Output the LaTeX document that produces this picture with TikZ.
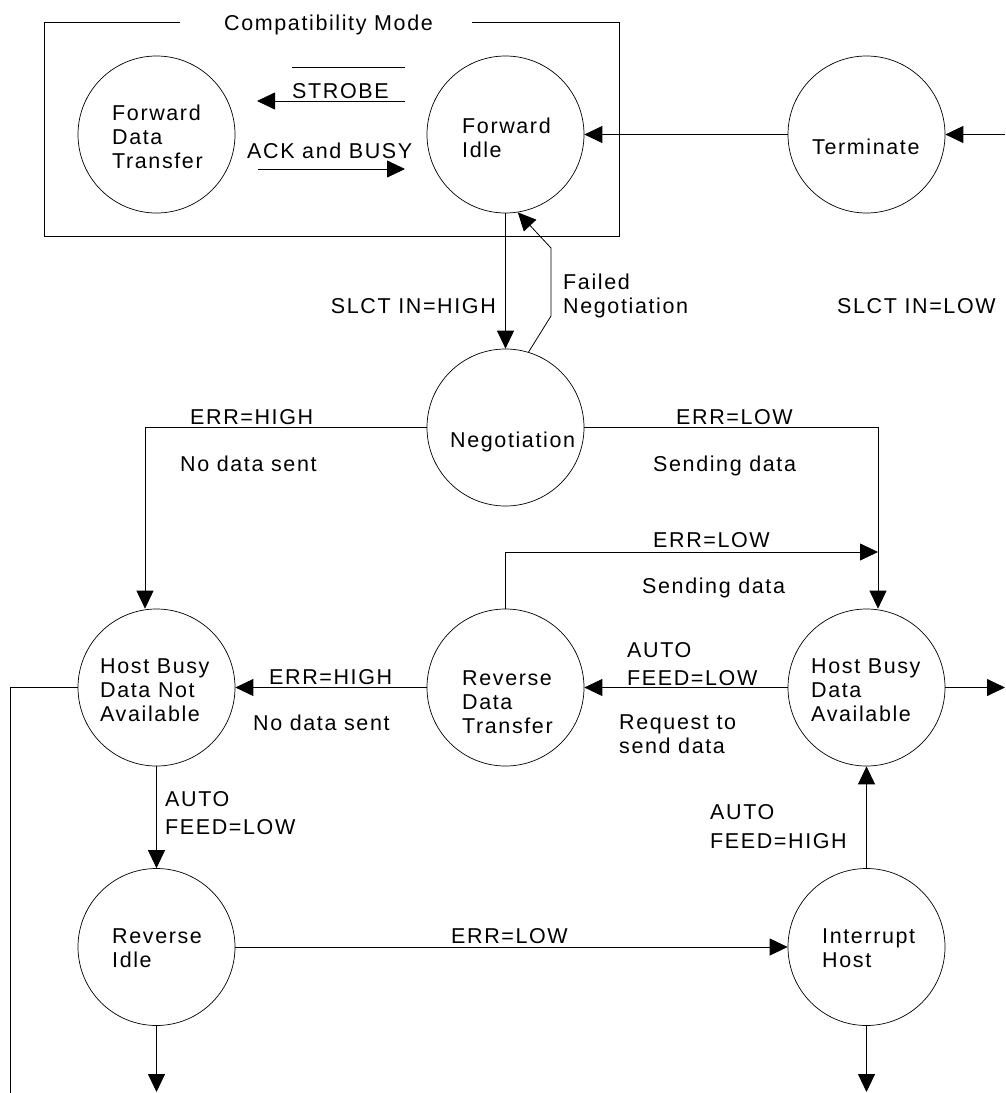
\documentclass[tikz,border=0pt]{standalone}
\usepackage{fontspec}
\setmainfont{Liberation Sans}[LetterSpace=7.5]
\usetikzlibrary{arrows.meta}
\tikzset{
  state/.style={draw, circle, minimum size=157pt, inner sep=0pt, line width=0.7pt},
  lbl/.style={anchor=base west, inner sep=0pt, font=\fontsize{21.5}{24}\selectfont},
  lble/.style={anchor=base east, inner sep=0pt, font=\fontsize{21.5}{24}\selectfont},
  conn/.style={line width=0.8pt},
  arr/.style={conn, -{Triangle[length=18pt,width=17pt]}},
}
\newcommand{\ml}[1]{\begin{tabular}[t]{@{}l@{}}#1\end{tabular}}
\begin{document}
\begin{tikzpicture}[x=1pt,y=-1pt]
\useasboundingbox (0,0) rectangle (1005,1093);
% compatibility box
\draw[conn] (180,22) -- (44,22) -- (44,236) -- (619,236) -- (619,22) -- (472,22);
\node[lbl] (cm) at (224,30) {Compatibility Mode};
% states
\node[state] (fdt) at (156.5,134.5) {};
\node[state] (fi) at (505.5,134.5) {};
\node[state] (term) at (866.5,134.5) {};
\node[state] (neg) at (505.5,427.5) {};
\node[state] (hbdna) at (156.5,687.5) {};
\node[state] (rdt) at (505.5,687.5) {};
\node[state] (hbda) at (866.5,687.5) {};
\node[state] (ri) at (156.5,947) {};
\node[state] (ih) at (866.5,947) {};
% state texts
\node[lbl] (fdt-t) at (112,120) {\ml{Forward\\Data\\Transfer}};
\node[lbl] (fi-t) at (462,133) {\ml{Forward\\Idle}};
\node[lbl] (term-t) at (812,154) {Terminate};
\node[lbl] (neg-t) at (450,447) {Negotiation};
\node[lbl] (hbdna-t) at (100,673) {\ml{Host Busy\\Data Not\\Available}};
\node[lbl] (rdt-t) at (462,685) {\ml{Reverse\\Data\\Transfer}};
\node[lbl] (hbda-t) at (811,673) {\ml{Host Busy\\Data\\Available}};
\node[lbl] (ri-t) at (112,943) {\ml{Reverse\\Idle}};
\node[lbl] (ih-t) at (822,943) {\ml{Interrupt\\Host}};
% coordinates
\coordinate (s1) at (405,101);
\coordinate (s2) at (257,101);
\coordinate (a1) at (258,169);
\coordinate (a2) at (405,169);
\coordinate (rin) at (1005,134.5);
\coordinate (f1) at (551,316);
\coordinate (f2) at (551,248);
\coordinate (join) at (878,552);
\coordinate (rout) at (1005,687.5);
\coordinate (lend) at (10,1093);
\coordinate (rib) at (156.5,1092);
\coordinate (ihb) at (866.5,1092);
% connectors
\draw[arr] (s1) -- (s2);
\draw[conn] (292,67) -- (405,67);
\node[lbl] (strobe) at (292,98) {STROBE};
\draw[arr] (a1) -- (a2);
\node[lbl] (ack) at (247,158) {ACK and BUSY};
\draw[arr] (rin) -- (term.east);
\draw[arr] (term.west) -- (fi.east);
\draw[arr] (fi.south) -- (neg.north);
\node[lble] (slh) at (496,313) {SLCT IN=HIGH};
\draw[arr] (neg.73) -- (f1) -- (f2) -- (fi.-81);
\node[lbl] (failed) at (563,289) {\ml{Failed\\Negotiation}};
\node[lbl] (sll) at (837,313) {SLCT IN=LOW};
\draw[arr] (neg.west) -| ([xshift=-11.5pt]hbdna.north);
\node[lbl] (eh1) at (190,424) {ERR=HIGH};
\node[lbl] (nd1) at (180,471) {No data sent};
\draw[arr] (neg.east) -| ([xshift=11.5pt]hbda.north);
\node[lbl] (el1) at (676,424) {ERR=LOW};
\node[lbl] (sd1) at (653,471) {Sending data};
\draw[arr] (rdt.north) |- (join);
\node[lbl] (el2) at (653,547) {ERR=LOW};
\node[lbl] (sd2) at (642,593) {Sending data};
\draw[arr] (rdt.west) -- (hbdna.east);
\node[lbl] (eh2) at (269,684) {ERR=HIGH};
\node[lbl] (nd2) at (253,730) {No data sent};
\draw[arr] (hbda.west) -- (rdt.east);
\node[lbl] (af1) at (627,657) {\ml{AUTO\\[4pt]FEED=LOW}};
\node[lbl] (req) at (619,729) {\ml{Request to\\send data}};
\draw[arr] (hbda.east) -- (rout);
\draw[conn] (hbdna.west) -| (lend);
\draw[arr] (hbdna.south) -- (ri.north);
\node[lbl] (af2) at (165,806) {\ml{AUTO\\[4pt]FEED=LOW}};
\draw[arr] (ri.east) -- (ih.west);
\node[lbl] (el3) at (451,943) {ERR=LOW};
\draw[arr] (ih.north) -- (hbda.south);
\node[lbl] (af3) at (710,819) {\ml{AUTO\\[5pt]FEED=HIGH}};
\draw[arr] (ri.south) -- (rib);
\draw[arr] (ih.south) -- (ihb);
\end{tikzpicture}
\end{document}
